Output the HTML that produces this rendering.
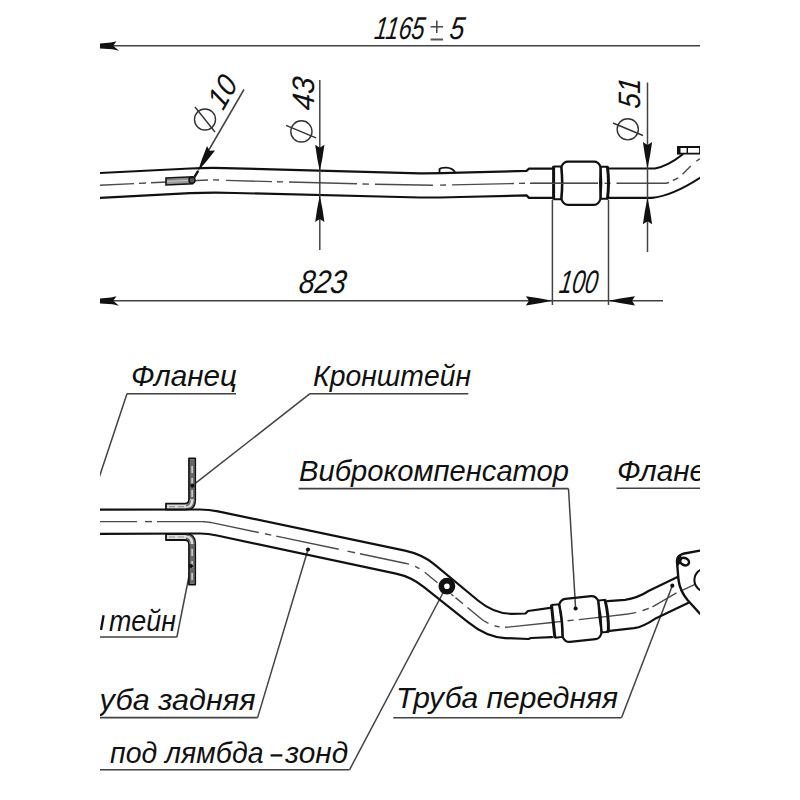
<!DOCTYPE html>
<html><head><meta charset="utf-8"><title>drawing</title>
<style>
html,body{margin:0;padding:0;background:#fff;}
svg{display:block;}
text{font-family:"Liberation Sans",sans-serif;font-style:italic;fill:#111;}
</style></head>
<body>
<svg width="800" height="800" viewBox="0 0 800 800">
<defs>
<path id="ar" d="M0,0 Q-13,-2.9 -26.5,-4.6 L-23.5,0 L-26.5,4.6 Q-13,2.9 0,0 Z" fill="#111"/>
<clipPath id="cp"><rect x="100" y="0" width="600" height="800"/></clipPath>
</defs>
<rect width="800" height="800" fill="#fff"/>
<g clip-path="url(#cp)">
<line x1="100" y1="45.8" x2="700" y2="45.8" stroke="#424242" stroke-width="1.6" />
<path d="M100,43.4 L111,42.4 L116.5,41.3 L113.2,45.8 L119,50.7 L112.5,49.3 L100,48.4 Z" fill="#111"/>
<text x="373.5" y="38.7" font-size="31.5" text-anchor="start" textLength="50" lengthAdjust="spacingAndGlyphs" transform="translate(373.5,38.7) skewX(-8) translate(-373.5,-38.7)" >1165</text>
<line x1="436.8" y1="20.6" x2="436.8" y2="33" stroke="#444" stroke-width="1.5" />
<line x1="430.6" y1="26.8" x2="443" y2="26.8" stroke="#444" stroke-width="1.5" />
<line x1="430.6" y1="39.5" x2="443" y2="39.5" stroke="#555" stroke-width="2" />
<text x="448.8" y="38.6" font-size="31.5" text-anchor="start" textLength="14.5" lengthAdjust="spacingAndGlyphs" transform="translate(448.8,38.6) skewX(-8) translate(-448.8,-38.6)" >5</text>
<path d="M100,173 L190,168.5 Q212,167.3 235,168.4 L420,173.3 Q440,173.4 460,172.6 L526.5,170.9 L529,168.7 L553,168.6" stroke="#111" stroke-width="2.2" fill="none" stroke-linejoin="round" stroke-linecap="round" />
<path d="M100,197.8 L190,193.2 Q212,192.3 235,193 L420,197.5 Q440,197.5 460,197 L526.5,195.4 L529,197.9 L553,197.9" stroke="#111" stroke-width="2.2" fill="none" stroke-linejoin="round" stroke-linecap="round" />
<path d="M439.5,173 L439.5,169.2 Q441,167.6 446,167.7 Q453,168 455,172.4" stroke="#111" stroke-width="1.8" fill="none" stroke-linejoin="round" stroke-linecap="round" />
<line x1="100" y1="185.3" x2="134" y2="183.64" stroke="#4a4a4a" stroke-width="1.4" />
<line x1="139" y1="183.39" x2="146" y2="183.05" stroke="#4a4a4a" stroke-width="1.4" />
<line x1="151" y1="182.81" x2="208" y2="180" stroke="#4a4a4a" stroke-width="1.4" />
<line x1="213" y1="179.84" x2="219" y2="180.07" stroke="#4a4a4a" stroke-width="1.4" />
<line x1="226" y1="180.35" x2="272" y2="181.64" stroke="#4a4a4a" stroke-width="1.4" />
<line x1="277" y1="181.77" x2="283" y2="181.92" stroke="#4a4a4a" stroke-width="1.4" />
<line x1="289" y1="182.07" x2="357" y2="183.8" stroke="#4a4a4a" stroke-width="1.4" />
<line x1="362.5" y1="183.94" x2="369" y2="184.1" stroke="#4a4a4a" stroke-width="1.4" />
<line x1="375" y1="184.26" x2="433" y2="185.21" stroke="#4a4a4a" stroke-width="1.4" />
<line x1="440" y1="185.1" x2="446" y2="185.01" stroke="#4a4a4a" stroke-width="1.4" />
<line x1="452" y1="184.92" x2="514" y2="183.49" stroke="#4a4a4a" stroke-width="1.4" />
<line x1="519" y1="183.37" x2="525" y2="183.22" stroke="#4a4a4a" stroke-width="1.4" />
<line x1="530.5" y1="183.2" x2="598" y2="183.24" stroke="#4a4a4a" stroke-width="1.4" />
<line x1="604.5" y1="183.25" x2="610.5" y2="183.25" stroke="#4a4a4a" stroke-width="1.4" />
<line x1="616.5" y1="183.25" x2="666" y2="183.28" stroke="#4a4a4a" stroke-width="1.4" />
<path d="M166,178 L192.5,176.8 L192.5,183.7 L166,185 Z" fill="#9a9a9a" stroke="#111" stroke-width="1.6"/>
<line x1="167" y1="181.5" x2="190" y2="180.3" stroke="#c8c8c8" stroke-width="1"/>
<line x1="167" y1="179.6" x2="190" y2="178.5" stroke="#777" stroke-width="0.8"/>
<circle cx="192" cy="180.2" r="3" fill="#555" stroke="#111" stroke-width="1.5"/>
<g >
<path d="M553.5,166.4 L561.3,166.4 Q562.6,183.4 561.3,199.2 L553.5,199.2" fill="none" stroke="#111" stroke-width="2"/>
<line x1="553.6" y1="166" x2="553.6" y2="199.6" stroke="#111" stroke-width="3"/>
<path d="M608,166.8 L600.6,166.8 Q599.4,183.4 600.6,198.8 L608,198.8" fill="none" stroke="#111" stroke-width="2"/>
<path d="M607.4,166.4 Q609.6,183.4 607.4,199.2" fill="none" stroke="#111" stroke-width="3"/>
<path d="M561.4,166.6 Q563.5,161.6 568,161.6 L594,161.6 Q598.5,161.6 600.5,166.8 Q602,183.4 600.5,199 Q598.5,204.9 594,204.9 L568,204.9 Q563.5,204.9 561.4,199.2 Q563.4,183.4 561.4,166.6 Z" fill="none" stroke="#111" stroke-width="2.2"/>
<line x1="530" y1="183.4" x2="598" y2="183.4" stroke="#4a4a4a" stroke-width="1.4"/>
</g>
<path d="M608,168.5 L655,168.5 Q668,166 682.5,154.5" stroke="#111" stroke-width="2.2" fill="none" stroke-linejoin="round" stroke-linecap="round" />
<path d="M608,197.8 L652,197.8 Q672,196 700,177.8" stroke="#111" stroke-width="2.2" fill="none" stroke-linejoin="round" stroke-linecap="round" />
<line x1="672.9" y1="180.5" x2="678.4" y2="177.8" stroke="#4a4a4a" stroke-width="1.4" />
<line x1="682.5" y1="174.3" x2="690.8" y2="166" stroke="#4a4a4a" stroke-width="1.4" />
<line x1="696.3" y1="161.3" x2="700" y2="158.5" stroke="#4a4a4a" stroke-width="1.4" />
<line x1="666" y1="183.3" x2="669" y2="182.5" stroke="#4a4a4a" stroke-width="1.4" />
<path d="M678,147 L700,147 L700,153.7 L678,153.7 Z" fill="#fff" stroke="#111" stroke-width="1.8"/>
<rect x="677" y="146.5" width="3.5" height="7.7" fill="#111"/>
<line x1="687.3" y1="147" x2="687.3" y2="153.7" stroke="#111" stroke-width="1.4" />
<line x1="244" y1="89.5" x2="203" y2="160" stroke="#424242" stroke-width="1.5" />
<use href="#ar" transform="translate(197.9,171.2) rotate(119.7)"/>
<line x1="198.2" y1="170.8" x2="194.2" y2="177.4" stroke="#111" stroke-width="2.4" />
<circle cx="205" cy="119.5" r="10.5" fill="none" stroke="#333" stroke-width="1.4"/>
<line x1="195" y1="107" x2="215" y2="132" stroke="#333" stroke-width="1.4" />
<text x="223" y="111.5" font-size="30" text-anchor="start" textLength="31.5" lengthAdjust="spacingAndGlyphs" transform="rotate(-60 223 111.5) translate(223,111.5) skewX(-6) translate(-223,-111.5)" >10</text>
<line x1="319.8" y1="80" x2="319.8" y2="250" stroke="#424242" stroke-width="1.5" />
<use href="#ar" transform="translate(319.8,171.3) rotate(90)"/>
<use href="#ar" transform="translate(319.8,195.6) rotate(-90)"/>
<circle cx="301.4" cy="131.4" r="10.6" fill="none" stroke="#333" stroke-width="1.4"/>
<line x1="286" y1="125.4" x2="316" y2="137.8" stroke="#333" stroke-width="1.4" />
<text x="314.5" y="111" font-size="31" text-anchor="start" textLength="33" lengthAdjust="spacingAndGlyphs" transform="rotate(-90 314.5 111) translate(314.5,111) skewX(-6) translate(-314.5,-111)" >43</text>
<line x1="647.5" y1="82.5" x2="647.5" y2="252" stroke="#424242" stroke-width="1.5" />
<use href="#ar" transform="translate(647.5,168.6) rotate(90)"/>
<use href="#ar" transform="translate(647.5,197.8) rotate(-90)"/>
<circle cx="627.75" cy="129.3" r="10.6" fill="none" stroke="#333" stroke-width="1.4"/>
<line x1="613" y1="123" x2="643" y2="135.5" stroke="#333" stroke-width="1.4" />
<text x="640" y="109" font-size="31" text-anchor="start" textLength="30" lengthAdjust="spacingAndGlyphs" transform="rotate(-90 640 109) translate(640,109) skewX(-6) translate(-640,-109)" >51</text>
<line x1="552.4" y1="200" x2="552.4" y2="305" stroke="#424242" stroke-width="1.5" />
<line x1="608.5" y1="200" x2="608.5" y2="305" stroke="#424242" stroke-width="1.5" />
<line x1="100" y1="300.8" x2="663" y2="300.8" stroke="#424242" stroke-width="1.6" />
<path d="M100,298.4 L111,297.4 L116.5,296.3 L113.2,300.8 L119,305.7 L112.5,304.3 L100,303.4 Z" fill="#111"/>
<use href="#ar" transform="translate(552.4,300.8) rotate(0)"/>
<use href="#ar" transform="translate(608.5,300.8) rotate(180)"/>
<text x="298" y="293" font-size="32.5" text-anchor="start" textLength="47" lengthAdjust="spacingAndGlyphs" transform="translate(298,293) skewX(-8) translate(-298,-293)" >823</text>
<text x="558.2" y="293" font-size="32.5" text-anchor="start" textLength="38.5" lengthAdjust="spacingAndGlyphs" transform="translate(558.2,293) skewX(-8) translate(-558.2,-293)" >100</text>
<text x="131" y="385.5" font-size="30" text-anchor="start" textLength="106" lengthAdjust="spacingAndGlyphs" >Фланец</text>
<line x1="127" y1="393.7" x2="236" y2="393.7" stroke="#424242" stroke-width="1.6" />
<line x1="127" y1="393.7" x2="96" y2="487" stroke="#424242" stroke-width="1.5" />
<text x="313" y="385.5" font-size="30" text-anchor="start" textLength="158" lengthAdjust="spacingAndGlyphs" >Кронштейн</text>
<line x1="310" y1="393.7" x2="468.3" y2="393.7" stroke="#424242" stroke-width="1.6" />
<line x1="310" y1="393.7" x2="192.4" y2="485.6" stroke="#424242" stroke-width="1.5" />
<text x="299" y="481" font-size="30" text-anchor="start" textLength="270" lengthAdjust="spacingAndGlyphs" >Виброкомпенсатор</text>
<line x1="298.6" y1="488.6" x2="568.5" y2="488.6" stroke="#424242" stroke-width="1.6" />
<line x1="568.5" y1="488.6" x2="575.6" y2="608.5" stroke="#424242" stroke-width="1.5" />
<text x="617" y="481" font-size="30" text-anchor="start" textLength="106" lengthAdjust="spacingAndGlyphs" >Фланец</text>
<line x1="616.5" y1="488.2" x2="700" y2="488.2" stroke="#424242" stroke-width="1.6" />
<text x="109" y="630.5" font-size="30" text-anchor="start" textLength="67" lengthAdjust="spacingAndGlyphs" >тейн</text>
<line x1="101" y1="630" x2="103.6" y2="615.3" stroke="#111" stroke-width="2.4" />
<line x1="96" y1="637" x2="176.9" y2="637" stroke="#424242" stroke-width="1.6" />
<line x1="176.9" y1="637" x2="191" y2="566" stroke="#424242" stroke-width="1.5" />
<text x="99.5" y="709.7" font-size="30" text-anchor="start" textLength="156" lengthAdjust="spacingAndGlyphs" >уба задняя</text>
<line x1="96" y1="717.6" x2="257.6" y2="717.6" stroke="#424242" stroke-width="1.6" />
<line x1="257.6" y1="717.6" x2="308" y2="549.5" stroke="#424242" stroke-width="1.5" />
<text x="110" y="763" font-size="30" text-anchor="start" textLength="153.5" lengthAdjust="spacingAndGlyphs" >под лямбда</text>
<line x1="270.6" y1="755.4" x2="282.3" y2="755.4" stroke="#111" stroke-width="2.3" />
<text x="285.2" y="763" font-size="30" text-anchor="start" textLength="63" lengthAdjust="spacingAndGlyphs" >зонд</text>
<line x1="96" y1="769.8" x2="349.5" y2="769.8" stroke="#424242" stroke-width="1.6" />
<line x1="349.5" y1="769.8" x2="444.5" y2="590" stroke="#424242" stroke-width="1.5" />
<text x="396" y="708" font-size="30" text-anchor="start" textLength="222" lengthAdjust="spacingAndGlyphs" >Труба передняя</text>
<line x1="393.3" y1="717.7" x2="621.5" y2="717.7" stroke="#424242" stroke-width="1.6" />
<line x1="621.5" y1="717.7" x2="672.3" y2="585.8" stroke="#424242" stroke-width="1.5" />
<path d="M189,458.4 L195.2,458.4 L195.2,500 Q195.2,509.6 186,509.6 L166,509.6 L166,503.6 L185,503.6 Q189,503.6 189,499.6 Z" fill="#dcdcdc" stroke="#111" stroke-width="1.8" stroke-linejoin="round"/>
<path d="M166,534 L186,534 Q195.2,534 195.2,543.6 L195.2,584.6 L189,584.6 L189,544 Q189,540 185,540 L166,540 Z" fill="#dcdcdc" stroke="#111" stroke-width="1.8" stroke-linejoin="round"/>
<rect x="189.9" y="459.3" width="4.4" height="40" fill="#686868"/>
<rect x="189.9" y="544" width="4.4" height="39.7" fill="#686868"/>
<path d="M190,500 Q190,505 186,505.6" fill="none" stroke="#686868" stroke-width="1.6"/>
<path d="M194.2,500 Q194.2,508.6 186,508.7" fill="none" stroke="#686868" stroke-width="1.3"/>
<path d="M190,544 Q190,538.5 186,538.2" fill="none" stroke="#686868" stroke-width="1.6"/>
<path d="M194.2,544 Q194.2,535 186,534.9" fill="none" stroke="#686868" stroke-width="1.3"/>
<path d="M192.1,463 L192.1,498" fill="none" stroke="#f0f0f0" stroke-width="1.2" stroke-dasharray="7 5" stroke-dashoffset="-3"/>
<path d="M192.1,546 L192.1,581" fill="none" stroke="#f0f0f0" stroke-width="1.2" stroke-dasharray="7 5" stroke-dashoffset="-3"/>
<path d="M169,506.6 L184,506.6" fill="none" stroke="#999" stroke-width="1.2" stroke-dasharray="6 3"/>
<path d="M169,537 L184,537" fill="none" stroke="#999" stroke-width="1.2" stroke-dasharray="6 3"/>
<path d="M100,509.6 L200,509.5 Q208.8,509.5 218,511.4 L405,550.7 Q422.4,554.4 435,564.8 L478,600.5 Q494.1,613.8 512,613.8 L525.5,613.5 L528,611 L552,607.6" stroke="#111" stroke-width="2.2" fill="none" stroke-linejoin="round" stroke-linecap="round" />
<path d="M100,533.8 L200,533.5 Q207.8,533.5 217,535.5 L396,573.6 Q411.2,576.8 424,587.1 L468,622.2 Q486.5,637.3 505,638.1 L528.5,639 L531,638 L552,637.2" stroke="#111" stroke-width="2.2" fill="none" stroke-linejoin="round" stroke-linecap="round" />
<path d="M100,521.6 L137,521.6" fill="none" stroke="#4a4a4a" stroke-width="1.4"/>
<path d="M145,521.6 L152,521.6" fill="none" stroke="#4a4a4a" stroke-width="1.4"/>
<path d="M157,521.6 L200,521.6 L201.17,521.61 L202.33,521.64 L203.5,521.69 L204.67,521.77 L205.83,521.86 L207,521.98 L208.17,522.11 L209.33,522.27 L210.5,522.44 L211.67,522.64 L212.83,522.86 L214,523.1 L258.75,532.5" fill="none" stroke="#4a4a4a" stroke-width="1.4"/>
<path d="M265,533.81 L271.25,535.12" fill="none" stroke="#4a4a4a" stroke-width="1.4"/>
<path d="M276.25,536.17 L338.75,549.29" fill="none" stroke="#4a4a4a" stroke-width="1.4"/>
<path d="M347.5,551.13 L355,552.7" fill="none" stroke="#4a4a4a" stroke-width="1.4"/>
<path d="M360,553.75 L405,563.2 L406.9,563.63 L408.75,564.13 L409,564.2" fill="none" stroke="#4a4a4a" stroke-width="1.4"/>
<path d="M415,566.39 L415.75,566.73 L417.4,567.53 L419,568.4 L419.5,568.7" fill="none" stroke="#4a4a4a" stroke-width="1.4"/>
<path d="M424.7,572.27 L425,572.5 L437.5,582.81" fill="none" stroke="#4a4a4a" stroke-width="1.4"/>
<path d="M451,593.94 L453.5,596" fill="none" stroke="#4a4a4a" stroke-width="1.4"/>
<path d="M455.5,597.65 L463,603.83" fill="none" stroke="#4a4a4a" stroke-width="1.4"/>
<path d="M467.5,607.54 L482,619.5 L483.83,620.78 L485.69,621.94 L487.59,622.99 L488.5,623.43" fill="none" stroke="#4a4a4a" stroke-width="1.4"/>
<path d="M494.5,625.76 L495.47,626.04 L497.51,626.52 L499.59,626.89 L499.7,626.9" fill="none" stroke="#4a4a4a" stroke-width="1.4"/>
<path d="M505,627.29 L506,627.3 L552,622.5 L562,621.41" fill="none" stroke="#4a4a4a" stroke-width="1.4"/>
<path d="M567.5,620.81 L573.75,620.13" fill="none" stroke="#4a4a4a" stroke-width="1.4"/>
<path d="M578.75,619.59 L608,616.4 L628,614 L630,613.67 L632.01,613.3 L634.03,612.88 L636.06,612.4 L636.25,612.35" fill="none" stroke="#4a4a4a" stroke-width="1.4"/>
<path d="M642.5,610.57 L644.22,610 L646.28,609.28 L648.35,608.5 L648.75,608.34" fill="none" stroke="#4a4a4a" stroke-width="1.4"/>
<path d="M652.5,606.8 L676,593.1 L676.5,592.87" fill="none" stroke="#4a4a4a" stroke-width="1.4"/>
<path d="M681,590.79 L695,584.31" fill="none" stroke="#4a4a4a" stroke-width="1.4"/>
<circle cx="308" cy="549.5" r="2.1" fill="#111"/>
<circle cx="446.9" cy="586.2" r="5.6" fill="none" stroke="#111" stroke-width="5.6"/>
<g transform="translate(-0.5,435.8) rotate(-6 580.5 183.4)">
<path d="M553.5,166.4 L561.3,166.4 Q562.6,183.4 561.3,199.2 L553.5,199.2" fill="none" stroke="#111" stroke-width="2"/>
<line x1="553.6" y1="166" x2="553.6" y2="199.6" stroke="#111" stroke-width="3"/>
<path d="M608,166.8 L600.6,166.8 Q599.4,183.4 600.6,198.8 L608,198.8" fill="none" stroke="#111" stroke-width="2"/>
<path d="M607.4,166.4 Q609.6,183.4 607.4,199.2" fill="none" stroke="#111" stroke-width="3"/>
<path d="M561.4,166.6 Q563.5,161.6 568,161.6 L594,161.6 Q598.5,161.6 600.5,166.8 Q602,183.4 600.5,199 Q598.5,204.9 594,204.9 L568,204.9 Q563.5,204.9 561.4,199.2 Q563.4,183.4 561.4,166.6 Z" fill="none" stroke="#111" stroke-width="2.2"/>
</g>
<circle cx="575.6" cy="608.5" r="2.1" fill="#111"/>
<path d="M607.5,601.2 L625,599.8 Q637,598.5 649,590.8 L678,576.8" stroke="#111" stroke-width="2.2" fill="none" stroke-linejoin="round" stroke-linecap="round" />
<path d="M607.5,631.2 L634,628.2 Q643,626.8 655,618.8 L688,603.1" stroke="#111" stroke-width="2.2" fill="none" stroke-linejoin="round" stroke-linecap="round" />
<circle cx="672.3" cy="585.7" r="2.1" fill="#111"/>
<path d="M700,550.6 L683,553.8 Q676.5,555.5 677,562 L678.5,580 Q680,591 687.5,600 L700,613.8" stroke="#111" stroke-width="2.4" fill="none" stroke-linejoin="round" stroke-linecap="round" />
<ellipse cx="684.6" cy="561.6" rx="4.6" ry="3.5" transform="rotate(25 684.6 561.6)" fill="#fff" stroke="#111" stroke-width="2.6"/>
<path d="M677.5,558 Q678.5,555.5 681.5,556 L680.5,563 L678,566 Z" fill="#111"/>
<circle cx="706" cy="580" r="11.6" fill="none" stroke="#111" stroke-width="2"/>
<circle cx="191" cy="566" r="2.1" fill="#111"/>
<circle cx="192.4" cy="485.6" r="2.1" fill="#111"/>
</g>
</svg>
</body></html>
